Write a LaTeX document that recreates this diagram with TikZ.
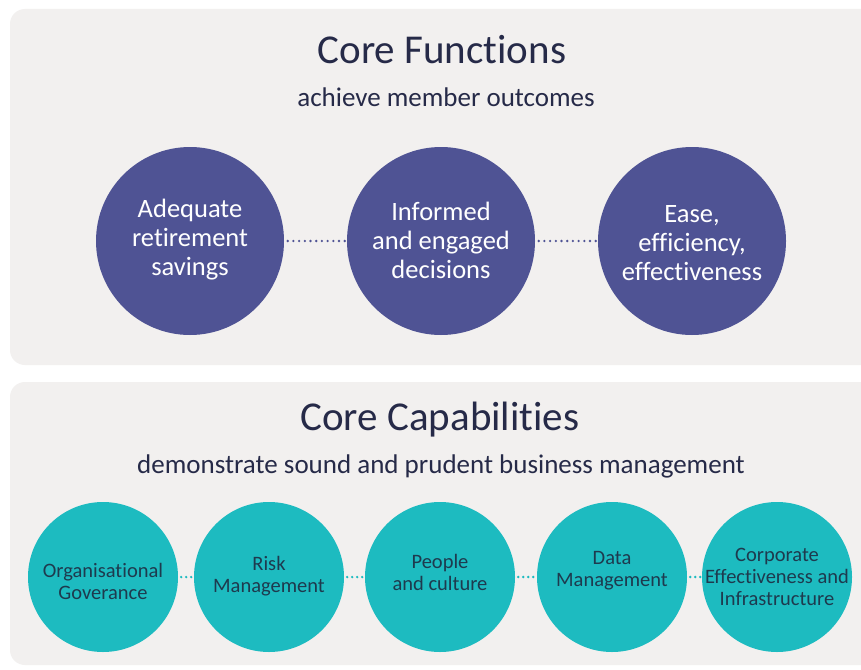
\documentclass[tikz,border=0pt]{standalone}
\usepackage{fontspec}
\setmainfont{Carlito}[Ligatures={NoCommon,NoContextual}]
\definecolor{panelbg}{HTML}{F2F0EF}
\definecolor{indigo}{HTML}{4F5394}
\definecolor{teal}{HTML}{1DBBC0}
\definecolor{navy}{HTML}{262A48}
\definecolor{darkteal}{HTML}{1E3A4E}
\tikzset{
  panel/.style={fill=panelbg, draw=none, rounded corners=15pt},
  title/.style={text=navy, font=\fontsize{41}{48}\selectfont, inner sep=0pt},
  subtitle/.style={text=navy, font=\fontsize{27}{32}\selectfont, inner sep=0pt},
  fcircle/.style={circle, fill=indigo, minimum size=188pt, inner sep=0pt},
  ccircle/.style={circle, fill=teal, minimum size=150pt, inner sep=0pt},
  ftext/.style={text=white, align=center, inner sep=0pt, font=\fontsize{26.5}{29}\selectfont},
  ctext/.style={text=darkteal, align=center, inner sep=0pt, font=\fontsize{20.5}{22}\selectfont},
  fdots/.style={draw=indigo, line width=2.6pt, line cap=round, dash pattern=on 0pt off 5.7pt, shorten <=3.5pt, shorten >=2pt},
  cdots/.style={draw=teal, line width=2.6pt, line cap=round, dash pattern=on 0pt off 5pt, shorten <=3pt, shorten >=1pt}
}
\begin{document}
\begin{tikzpicture}[x=1pt, y=-1pt]
\useasboundingbox (0,0) rectangle (861,669);
\fill[white] (0,0) rectangle (861,669);
% panels
\path[panel] (10,9) rectangle (876,365);
\path[panel] (10,382) rectangle (876,665);
% top section
\node[title] (t1) at (442,50) {Core Functions};
\node[subtitle] (s1) at (446,97) {achieve member outcomes};
\node[fcircle] (f1) at (190,241) {};
\node[fcircle] (f2) at (441,241) {};
\node[fcircle] (f3) at (692,241) {};
\draw[fdots] (f1.east) -- (f2.west);
\draw[fdots] (f2.east) -- (f3.west);
\node[ftext] (f1t) at (190,240) {Adequate\\retirement\\savings};
\node[ftext] (f2t) at (441,240) {Informed\\and engaged\\decisions};
\node[ftext] (f3t) at (692,243) {Ease,\\efficiency,\\effectiveness};
% bottom section
\node[title] (t2) at (440,420) {Core Capabilities};
\node[subtitle] (s2) at (441,466) {demonstrate sound and prudent business management};
\node[ccircle] (c1) at (103,577) {};
\node[ccircle] (c2) at (269,577) {};
\node[ccircle] (c3) at (440,577) {};
\node[ccircle] (c4) at (612,577) {};
\node[ccircle] (c5) at (777,577) {};
\draw[cdots] (c1.east) -- (c2.west);
\draw[cdots] (c2.east) -- (c3.west);
\draw[cdots] (c3.east) -- (c4.west);
\draw[cdots] (c4.east) -- (c5.west);
\node[ctext] (c1t) at (103,581) {Organisational\\Goverance};
\node[ctext] (c2t) at (269,576) {Risk\\Management};
\node[ctext] (c3t) at (440,572) {People\\and culture};
\node[ctext] (c4t) at (612,571) {Data\\Management};
\node[ctext] (c5t) at (777,577) {Corporate\\Effectiveness and\\Infrastructure};
\end{tikzpicture}
\end{document}
